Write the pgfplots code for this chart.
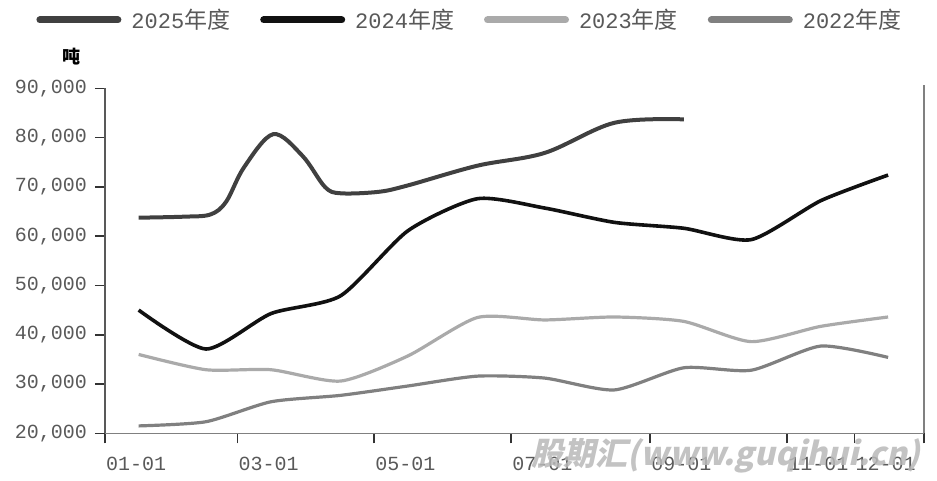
\documentclass[border=0pt]{standalone}
\usepackage{pgfplots}
\pgfplotsset{compat=1.18}
\usepackage{fontspec}
\setmainfont{Liberation Sans}
\newfontfamily\cjk{Noto Sans CJK SC}
\newfontfamily\mono{Liberation Mono}
\newfontfamily\wm[FakeSlant=0.22]{Noto Sans CJK SC}
\definecolor{c25}{HTML}{404040}
\definecolor{c24}{HTML}{111111}
\definecolor{c23}{HTML}{AAAAAA}
\definecolor{c22}{HTML}{808080}
\definecolor{txt}{HTML}{595959}
\begin{document}
\begin{tikzpicture}
\useasboundingbox (0,0) rectangle (937pt,480pt);
\begin{axis}[
  at={(105pt,46.7pt)}, anchor=south west,
  scale only axis, width=819pt, height=345pt,
  xmin=0, xmax=365, ymin=20000, ymax=90000,
  axis lines=left,
  axis line style={-, draw=c22, line width=1.6pt},
  y axis line style={draw=txt},
  xtick={0,59,120,181,243,304,334,365},
  xticklabels={01-01,03-01,05-01,07-01,09-01,11-01,12-01,{}},
  ytick={20000,30000,40000,50000,60000,70000,80000,90000},
  scaled y ticks=false,
  tick align=outside, major tick length=10pt,
  tick style={draw=black!80, line width=1.6pt},
  xticklabel style={font=\mono\fontsize{20}{22}\selectfont, text=txt, anchor=north west, inner sep=0pt, xshift=1pt, yshift=-14pt},
  yticklabel style={font=\mono\fontsize{20}{22}\selectfont, text=txt, anchor=east, inner sep=0pt, xshift=-8pt},
  /pgf/number format/assume math mode=true,
  /pgf/number format/1000 sep={,},
  legend columns=4,
  legend cell align=left,
  legend style={at={(0.4463,1.198)}, anchor=center, draw=none, fill=none,
    font=\fontsize{22}{24}\selectfont, text=txt,
    nodes={inner sep=3pt},
    /tikz/every odd column/.append style={column sep=7pt},
    /tikz/every even column/.append style={column sep=27pt}},
  legend image code/.code={\draw[#1, line width=7pt, line cap=round] (3.5pt,0pt) -- (81.5pt,0pt);},
  clip=false,
]
\addplot[c25, line width=4pt, smooth, tension=0.55] coordinates {
 (15,63750) (35,63950) (47,64400) (54,67000) (62,74000) (75,80700) (88,76300) (98,70000) (105,68700) (122,69000) (135,70300) (166,74300) (196,76900) (227,83000) (258,83700)};
\addlegendentry{{\mono 2025}{\cjk\fontsize{23}{24}\selectfont 年度}}
\addplot[c24, line width=3.6pt, smooth, tension=0.4] coordinates {
 (15,45000) (45,37100) (74,44300) (105,47900) (135,61100) (166,67600) (196,65700) (227,62800) (258,61600) (288,59300) (319,67200) (349,72400)};
\addlegendentry{{\mono 2024}{\cjk\fontsize{23}{24}\selectfont 年度}}
\addplot[c23, line width=3.2pt, smooth, tension=0.4] coordinates {
 (15,36000) (45,32900) (74,32900) (105,30600) (135,35700) (166,43500) (196,43000) (227,43600) (258,42700) (288,38600) (319,41700) (349,43600)};
\addlegendentry{{\mono 2023}{\cjk\fontsize{23}{24}\selectfont 年度}}
\addplot[c22, line width=3.2pt, smooth, tension=0.4] coordinates {
 (15,21500) (45,22350) (74,26400) (105,27700) (135,29600) (166,31600) (196,31200) (227,28800) (258,33300) (288,32800) (319,37700) (349,35400)};
\addlegendentry{{\mono 2022}{\cjk\fontsize{23}{24}\selectfont 年度}}
\draw[c22, line width=1.6pt] (rel axis cs:1,0) -- (rel axis cs:1,1.01);
\end{axis}
\node[font=\cjk\bfseries\fontsize{18}{20}\selectfont, text=black] at (71pt,423pt) {吨};
\node[font=\wm\bfseries\fontsize{32}{36}\selectfont, text=black!28, text opacity=0.85] at (726pt,24pt) {股期汇(www.guqihui.cn)};
\end{tikzpicture}
\end{document}
